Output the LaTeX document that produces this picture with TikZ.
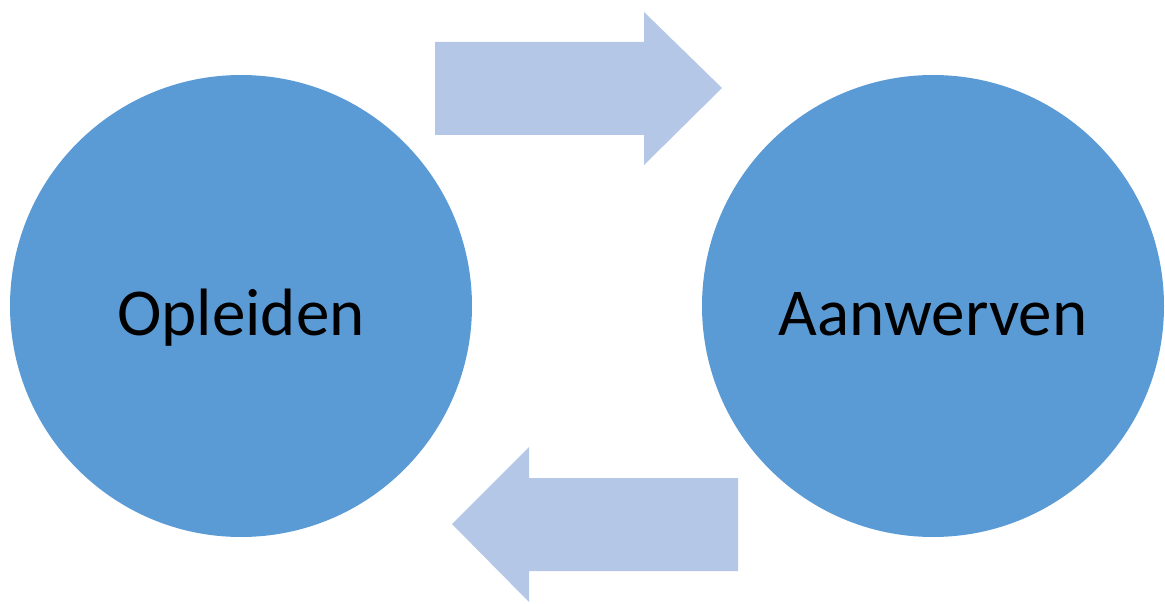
\documentclass[tikz,border=0pt]{standalone}
\usepackage{fontspec}
\setmainfont{Carlito}
\definecolor{circblue}{HTML}{5B9BD5}
\definecolor{arrowblue}{HTML}{B4C7E7}
\tikzset{
  phase/.style={circle,fill=circblue,minimum size=462pt,inner sep=0pt,
    text height=58pt,text depth=0pt,font=\fontsize{67}{80}\selectfont},
  flow/.style={fill=arrowblue}
}
\begin{document}
\begin{tikzpicture}[x=1pt,y=-1pt]
\useasboundingbox (0,0) rectangle (1165,604);
\node [phase] (opleiden) at (241,306) {Opleiden};
\node [phase] (aanwerven) at (933,306) {Aanwerven};
\fill [flow] (435,42) -- (644,42) -- (644,12) -- (722,88) -- (644,165) -- (644,135) -- (435,135) -- cycle;
\fill [flow] (738,478) -- (529,478) -- (529,447) -- (452,524) -- (529,602) -- (529,571) -- (738,571) -- cycle;
\end{tikzpicture}
\end{document}
